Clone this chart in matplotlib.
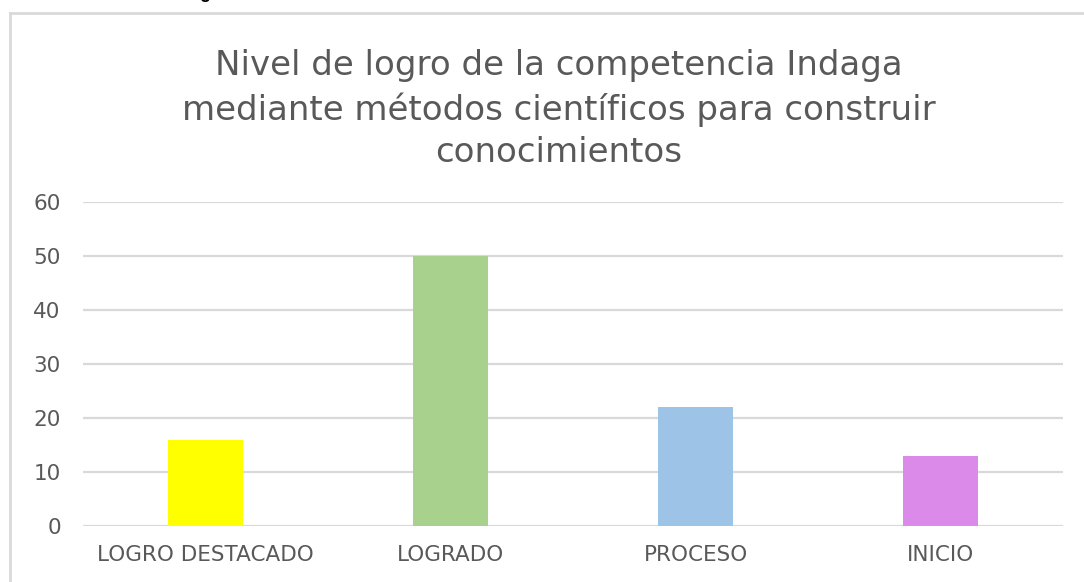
import matplotlib
matplotlib.use("Agg")
import matplotlib.pyplot as plt
from matplotlib.lines import Line2D

categories = ["LOGRO DESTACADO", "LOGRADO", "PROCESO", "INICIO"]
values = [16, 50, 22, 13]
colors = ["#FFFF00", "#A9D18E", "#9DC3E6", "#DC8AEA"]
yticks = [0, 10, 20, 30, 40, 50, 60]
title = "Nivel de logro de la competencia Indaga\nmediante métodos científicos para construir\nconocimientos"

W, H = 1084, 582
fig = plt.figure(figsize=(W / 100, H / 100), dpi=100)
fig.patch.set_facecolor("white")

# chart border (cropped on right and bottom)
fig.add_artist(Line2D([10 / W, 10 / W], [0, 1 - 13 / H], transform=fig.transFigure,
                      color="#D9D9D9", lw=2))
fig.add_artist(Line2D([10 / W, 1], [1 - 13 / H, 1 - 13 / H], transform=fig.transFigure,
                      color="#D9D9D9", lw=2))

# cropped fragment of text above the chart
fig.text(205 / W, 1 + 2 / H, "g", ha="center", va="baseline", fontsize=13,
         fontweight="bold", color="black", family="Liberation Sans")

ax = fig.add_axes([83 / W, 1 - 526 / H, (1063 - 83) / W, (526 - 202) / H])
x = range(len(categories))
ax.bar(x, values, width=0.31, color=colors, zorder=3)
ax.set_xlim(-0.5, len(categories) - 0.5)
ax.set_ylim(0, 60)
ax.set_yticks(yticks)
ax.set_xticks(list(x))
ax.set_xticklabels(categories)
for s in ax.spines.values():
    s.set_visible(False)
ax.yaxis.grid(True, color="#D9D9D9", lw=1.6, zorder=0)
ax.tick_params(axis="both", length=0, labelsize=15.5, labelcolor="#595959")
ax.tick_params(axis="y", pad=16)
ax.tick_params(axis="x", pad=14)
for lbl in ax.get_xticklabels() + ax.get_yticklabels():
    lbl.set_family("DejaVu Sans")

fig.text(559 / W, 1 - 109 / H, title, ha="center", va="center", fontsize=24.5,
         color="#595959", family="DejaVu Sans", linespacing=1.36)

fig.savefig("out.png", dpi=100)
